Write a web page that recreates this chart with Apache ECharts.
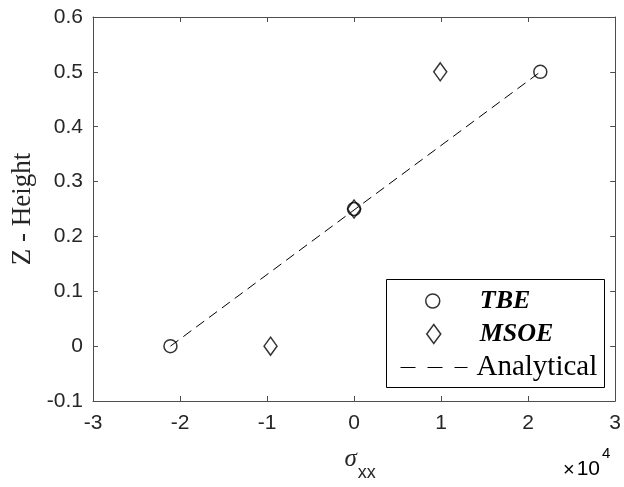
<!DOCTYPE html>
<html>
<head>
<meta charset="utf-8">
<script src="https://cdn.jsdelivr.net/npm/echarts@6/dist/echarts.min.js"></script>
<style>
  html, body { margin: 0; padding: 0; background: #fff; }
  #chart { width: 624px; height: 487px; }
</style>
</head>
<body>
<div id="chart"></div>
<script>
// ---- data (x in raw units, axis shows ×10^4) ----
const tbeX = [-21100, 0, 21400];
const tbeY = [0, 0.25, 0.5];
const msoeX = [-9600, 0, 9900];
const msoeY = [0, 0.25, 0.5];
const analyticalX = [-21100, 21400];
const analyticalY = [0, 0.5];
const seriesNames = ['TBE', 'MSOE', 'Analytical'];
const xTicks = [-30000, 30000, 10000]; // min, max, interval
const yTicks = [-0.1, 0.6, 0.1];

const zip = (xs, ys) => xs.map((x, i) => [x, ys[i]]);

const axisColor = '#4d4d4d';
const textColor = '#262626';
const tickFont = 21;

const chart = echarts.init(document.getElementById('chart'), null, { renderer: 'canvas' });

const baseX = {
  type: 'value', min: xTicks[0], max: xTicks[1], interval: xTicks[2],
  axisLine: { show: true, onZero: false, lineStyle: { color: axisColor, width: 1 } },
  axisTick: { show: true, inside: true, length: 5, lineStyle: { color: axisColor } },
  splitLine: { show: false }
};
const baseY = {
  type: 'value', min: yTicks[0], max: yTicks[1], interval: yTicks[2],
  axisLine: { show: true, onZero: false, lineStyle: { color: axisColor, width: 1 } },
  axisTick: { show: true, inside: true, length: 5, lineStyle: { color: axisColor } },
  splitLine: { show: false }
};

const richText = {
  b: { fontFamily: 'Liberation Serif', fontWeight: 'bold', fontStyle: 'italic', fontSize: 26, color: '#000' },
  m: { fontFamily: 'Liberation Serif', fontWeight: 'bold', fontStyle: 'italic', fontSize: 26, color: '#000', letterSpacing: 2 },
  r: { fontFamily: 'Liberation Serif', fontSize: 29, color: '#000' }
};
const legendCommon = {
  orient: 'vertical',
  padding: 0,
  z: 5,
  selectedMode: false,
  formatter: n => n === 'Analytical' ? '{r|' + n + '}' : '{b|' + n + '}'
};

const option = {
  animation: false,
  backgroundColor: '#fff',
  grid: { left: 93, right: 4, top: 17, bottom: 83, containLabel: false },
  xAxis: [
    Object.assign({}, baseX, {
      position: 'bottom',
      axisLabel: {
        show: true, margin: 12, color: textColor, fontSize: tickFont,
        fontFamily: 'Liberation Sans',
        formatter: v => String(Math.round(v / 10000))
      },
      name: '{s|σ}{x|xx}',
      nameLocation: 'middle',
      nameGap: 46,
      nameTextStyle: {
        rich: {
          s: { fontFamily: 'Liberation Serif', fontStyle: 'italic', fontSize: 25, color: textColor, lineHeight: 36, verticalAlign: 'top', padding: [0, 0, 0, 12] },
          x: { fontFamily: 'Liberation Sans', fontSize: 18, color: textColor, lineHeight: 36, verticalAlign: 'top', padding: [17, 0, 0, 1] }
        }
      }
    }),
    Object.assign({}, baseX, { position: 'top', axisLabel: { show: false } })
  ],
  yAxis: [
    Object.assign({}, baseY, {
      position: 'left',
      axisLabel: {
        show: true, margin: 10, color: textColor, fontSize: tickFont,
        fontFamily: 'Liberation Sans',
        formatter: v => String(Math.round(v * 10) / 10)
      },
      name: 'Z - Height',
      nameLocation: 'middle',
      nameGap: 56,
      nameTextStyle: { fontFamily: 'Liberation Serif', fontSize: 27, color: textColor }
    }),
    Object.assign({}, baseY, { position: 'right', axisLabel: { show: false } })
  ],
  legend: [
    Object.assign({}, legendCommon, {
      data: [seriesNames[0]], left: 425, top: 288,
      icon: 'circle', itemWidth: 14, itemHeight: 14, itemGap: 0,
      itemStyle: { color: 'rgba(0,0,0,0)', borderColor: '#000', borderWidth: 1.5 },
      textStyle: { rich: richText, padding: [0, 0, 0, 35] }
    }),
    Object.assign({}, legendCommon, {
      data: [seriesNames[1]], left: 426, top: 321,
      icon: 'diamond', itemWidth: 14, itemHeight: 19, itemGap: 0,
      itemStyle: { color: 'rgba(0,0,0,0)', borderColor: '#000', borderWidth: 1.5 },
      formatter: n => '{m|' + n + '}',
      textStyle: { rich: richText, padding: [0, 0, 0, 34] }
    }),
    Object.assign({}, legendCommon, {
      data: [seriesNames[2]], left: 400, top: 353,
      itemWidth: 67, itemHeight: 14, itemGap: 0,
      itemStyle: { color: 'rgba(0,0,0,0)', borderColor: 'rgba(0,0,0,0)', borderWidth: 0, opacity: 0 },
      lineStyle: { color: '#000', width: 1, type: [15, 12], opacity: 1 },
      textStyle: { rich: richText, padding: [0, 0, 0, 4] }
    })
  ],
  graphic: [
    {
      type: 'rect', z: 3, left: 386, top: 279,
      shape: { width: 218, height: 108 },
      style: { fill: '#fff', stroke: '#000', lineWidth: 1 }
    },
    {
      type: 'text', z: 5, left: 563, top: 446,
      style: {
        text: '{a|×}{c|10}{b|4}',
        rich: {
          a: { fontFamily: 'Liberation Sans', fontSize: 20, color: textColor, lineHeight: 34, verticalAlign: 'bottom', padding: [0, 2, 0, 0] },
          c: { fontFamily: 'Liberation Sans', fontSize: 21, color: textColor, lineHeight: 34, verticalAlign: 'bottom' },
          b: { fontFamily: 'Liberation Sans', fontSize: 15, color: textColor, lineHeight: 34, verticalAlign: 'top', padding: [0, 0, 0, 2] }
        }
      }
    }
  ],
  series: [
    {
      name: seriesNames[2], type: 'line', data: zip(analyticalX, analyticalY),
      symbol: 'none', showSymbol: false, z: 2,
      lineStyle: { color: '#000', width: 1, type: [10, 6] },
      itemStyle: { color: '#000' }
    },
    {
      name: seriesNames[0], type: 'scatter', data: zip(tbeX, tbeY),
      symbol: 'circle', symbolSize: 13, z: 3,
      itemStyle: { color: 'rgba(0,0,0,0)', borderColor: '#000', borderWidth: 1.5 }
    },
    {
      name: seriesNames[1], type: 'scatter', data: zip(msoeX, msoeY),
      symbol: 'diamond', symbolSize: [13, 18], z: 3,
      itemStyle: { color: 'rgba(0,0,0,0)', borderColor: '#000', borderWidth: 1.5 }
    }
  ]
};

chart.setOption(option);
</script>
</body>
</html>
